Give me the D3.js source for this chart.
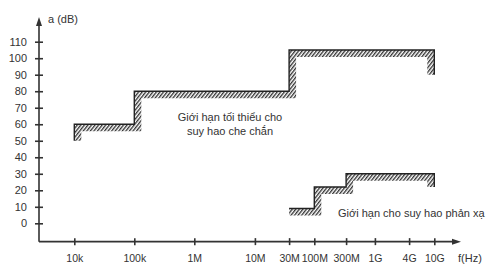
<!DOCTYPE html>
<html><head><meta charset="utf-8">
<script src="https://cdn.jsdelivr.net/npm/d3@7/dist/d3.min.js"></script>
<style>body{margin:0;background:#fff}svg{display:block}text{font-family:"Liberation Sans",Arial,sans-serif;fill:#333}</style>
</head><body><svg id="c" width="498" height="271"></svg>
<script>
// Axis categories (frequency) and their relative slot positions on the non-uniform axis
const xLabels = ["10k","100k","1M","10M","30M","100M","300M","1G","4G","10G"];
const xFreq   = [1e4, 1e5, 1e6, 1e7, 3e7, 1e8, 3e8, 1e9, 4e9, 1e10];
const xSlot   = [0, 1, 2, 3.01, 3.58, 4, 4.53, 5.01, 5.58, 6];
const yTicks  = [0,10,20,30,40,50,60,70,80,90,100,110];

// Minimum shielding attenuation limit (step curve)
const shieldFreq = [1e4, 1e4, 1e5, 1e5, 3e7, 3e7, 1e10, 1e10];
const shieldDb   = [50, 60, 60, 80, 80, 105, 105, 90];
// Return-loss limit (step curve)
const reflFreq = [3e7, 1e8, 1e8, 3e8, 3e8, 1e10, 1e10];
const reflDb   = [9, 9, 22, 22, 30, 30, 22];

const svg = d3.select("#c");
const x0 = 74.3, decade = 60;
const x = d3.scaleLinear().domain(xFreq.map(Math.log10)).range(xSlot.map(s => x0 + s*decade));
const X = f => x(Math.log10(f));
const y = d3.scaleLinear().domain([0,110]).range([223.3, 41.7]);
const axisX = 39, axisY = y(-11.1);
const col = "#333";

// hatch pattern
const defs = svg.append("defs");
const pat = defs.append("pattern").attr("id","hatch").attr("patternUnits","userSpaceOnUse")
  .attr("width",2.8).attr("height",2.8).attr("patternTransform","rotate(38)");
pat.append("rect").attr("width",2.8).attr("height",2.8).attr("fill","#fff");
pat.append("line").attr("x1",0.7).attr("y1",0).attr("x2",0.7).attr("y2",2.8)
  .attr("stroke","#1a1a1a").attr("stroke-width",1.2);

function stepCurve(fs, ds, id){
  const pts = fs.map((f,i)=>[X(f), y(ds[i])]);
  const line = d3.line();
  const last = pts[pts.length-1], first = pts[0];
  const clipPts = pts.concat([[last[0], 400],[first[0], 400]]);
  defs.append("clipPath").attr("id",id).append("path").attr("d", line(clipPts)+"Z");
  svg.append("path").attr("d", line(pts)).attr("fill","none")
    .attr("stroke","url(#hatch)").attr("stroke-width",14)
    .attr("stroke-linejoin","miter").attr("stroke-linecap","butt")
    .attr("clip-path",`url(#${id})`);
  svg.append("path").attr("d", line(pts)).attr("fill","none")
    .attr("stroke","#222").attr("stroke-width",1.4).attr("stroke-linejoin","miter");
}
stepCurve(shieldFreq, shieldDb, "c1");
stepCurve(reflFreq, reflDb, "c2");

// Y axis
const gy = svg.append("g").attr("transform",`translate(${axisX},0)`)
  .call(d3.axisLeft(y).tickValues(yTicks).tickSize(4).tickPadding(8));
gy.select(".domain").remove();
gy.selectAll(".tick line").attr("x1",-4).attr("x2",4).attr("stroke",col).attr("stroke-width",1.6);
gy.selectAll(".tick text").attr("font-size",11).attr("font-family","Liberation Sans, Arial, sans-serif").attr("fill",col);
svg.append("line").attr("x1",axisX).attr("x2",axisX).attr("y1",axisY).attr("y2",24)
  .attr("stroke",col).attr("stroke-width",1.6);
svg.append("path").attr("d",`M${axisX},17L${axisX-3},26L${axisX+3},26Z`).attr("fill",col);
svg.append("text").attr("x",48).attr("y",23).attr("font-size",11).text("a (dB)");

// X axis
const gx = svg.append("g").attr("transform",`translate(0,${axisY})`)
  .call(d3.axisBottom(x).tickValues(xFreq.map(Math.log10)).tickFormat((d,i)=>xLabels[i]).tickSize(4).tickPadding(9));
gx.select(".domain").remove();
gx.selectAll(".tick line").attr("y1",-3.5).attr("y2",3.5).attr("stroke",col).attr("stroke-width",1.6);
gx.selectAll(".tick text").attr("font-size",10.5).attr("font-family","Liberation Sans, Arial, sans-serif").attr("fill",col);
svg.append("line").attr("x1",axisX).attr("x2",454).attr("y1",axisY).attr("y2",axisY)
  .attr("stroke",col).attr("stroke-width",1.6);
svg.append("path").attr("d",`M461,${axisY}L452,${axisY-3}L452,${axisY+3}Z`).attr("fill",col);
svg.append("text").attr("x",458).attr("y",262).attr("font-size",11).text("f(Hz)");

// Annotations
const ann = svg.append("text").attr("font-size",11).attr("text-anchor","middle");
ann.append("tspan").attr("x",230).attr("y",121).text("Giới hạn tối thiểu cho");
ann.append("tspan").attr("x",230).attr("y",135).text("suy hao che chắn");
svg.append("text").attr("x",338).attr("y",217).attr("font-size",11).text("Giới hạn cho suy hao phản xạ");
</script></body></html>
